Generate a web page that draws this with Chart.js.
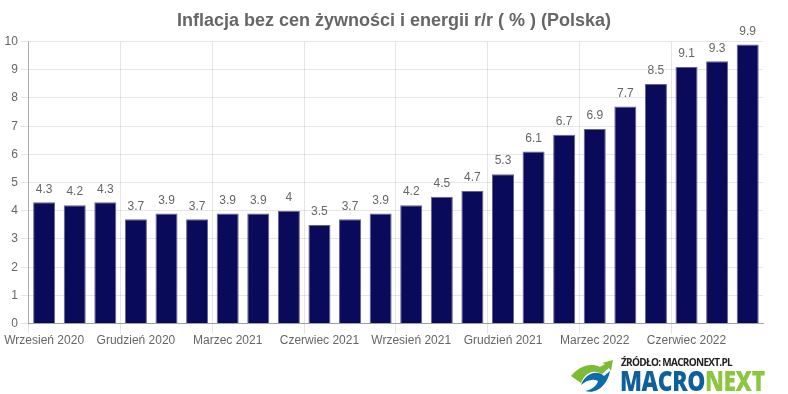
<!DOCTYPE html>
<html lang="pl">
<head>
    <meta charset="UTF-8">
    <title>Inflacja bez cen żywności i energii</title>
    <script src="https://cdn.jsdelivr.net/npm/chart.js"></script>
    <style>
        html, body { margin: 0; padding: 0; background: #fff; overflow: hidden; }
        .wrap { position: relative; width: 788px; height: 394px; }
        .source {
            position: absolute; left: 621px; top: 355px;
            font: bold 10px "Open Sans", Arial, sans-serif; color: #222; letter-spacing: -0.7px; white-space: nowrap;
        }
        .brand {
            position: absolute; left: 620px; top: 360px;
            font: 800 29px "Open Sans", Arial, sans-serif; white-space: nowrap;
            letter-spacing: -0.5px; transform-origin: left top; transform: scaleX(0.785);
        }
        .brand .a { color: #0f5f9c; }
        .brand .b { color: #8cc63f; }
        .swoosh { position: absolute; left: 570px; top: 359px; }
    </style>
</head>
<body>
<div class="wrap">
    <canvas id="chart" width="788" height="394"></canvas>
    <svg class="swoosh" width="46" height="34" viewBox="0 0 46 34">
        <path d="M1 17 C8 8 20 3 30 8 L35 5 L32 4 L43 1 L41 12 L39 9 L32 15 C26 11 16 11 11 24 Z" fill="#7dbb35"/>
        <path d="M11 26 C16 13 28 11 34 17 L40 12 C38 24 28 36 15 32 C21 31 27 27 28 22 C22 19 16 22 11 26 Z" fill="#0f6aa8"/>
    </svg>
    <div class="source">ŹRÓDŁO: MACRONEXT.PL</div>
    <div class="brand"><span class="a">MACRO</span><span class="b">NEXT</span></div>
</div>
<script>
const chartTitle = "Inflacja bez cen żywności i energii r/r ( % ) (Polska)";
const months = [
    "Wrzesień 2020", "Październik 2020", "Listopad 2020", "Grudzień 2020",
    "Styczeń 2021", "Luty 2021", "Marzec 2021", "Kwiecień 2021", "Maj 2021",
    "Czerwiec 2021", "Lipiec 2021", "Sierpień 2021", "Wrzesień 2021",
    "Październik 2021", "Listopad 2021", "Grudzień 2021", "Styczeń 2022",
    "Luty 2022", "Marzec 2022", "Kwiecień 2022", "Maj 2022", "Czerwiec 2022",
    "Lipiec 2022", "Sierpień 2022"
];
const inflation = [4.3, 4.2, 4.3, 3.7, 3.9, 3.7, 3.9, 3.9, 4, 3.5, 3.7, 3.9, 4.2, 4.5, 4.7, 5.3, 6.1, 6.7, 6.9, 7.7, 8.5, 9.1, 9.3, 9.9];
const labelEvery = 3;
const fontFamily = "Arial, 'Liberation Sans', sans-serif";

const valueLabels = {
    id: "valueLabels",
    // title is centred on the whole canvas, not on the padded box
    beforeDraw(chart) {
        chart.titleBlock.left = 0;
        chart.titleBlock.right = chart.width;
    },
    // value above each bar
    afterDatasetsDraw(chart) {
        const ctx = chart.ctx;
        ctx.save();
        ctx.font = "12px " + fontFamily;
        ctx.fillStyle = "#666";
        ctx.textAlign = "center";
        ctx.textBaseline = "bottom";
        chart.getDatasetMeta(0).data.forEach((bar, i) => {
            ctx.fillText(inflation[i], bar.x, bar.y - 7);
        });
        ctx.restore();
    }
};

new Chart(document.getElementById("chart"), {
    type: "bar",
    data: {
        labels: months,
        datasets: [{
            data: inflation,
            backgroundColor: "#0a0a5a",
            borderColor: "rgba(60, 60, 125, 0.8)",
            borderWidth: 1
        }]
    },
    options: {
        responsive: false,
        animation: false,
        layout: { padding: { left: 1.5, right: 25, top: 0, bottom: 46 } },
        plugins: {
            legend: { display: false },
            tooltip: { enabled: false },
            title: {
                display: true,
                text: chartTitle,
                color: "#666",
                font: { family: fontFamily, size: 18, weight: "bold" },
                padding: { top: 10, bottom: 10 }
            }
        },
        scales: {
            x: {
                border: { color: "rgba(0,0,0,0.3)" },
                grid: {
                    // only every third month gets a line
                    color: c => c.index % labelEvery === 0 ? "rgba(0,0,0,0.1)" : "rgba(0,0,0,0)",
                    tickLength: 10
                },
                ticks: {
                    color: "#666",
                    font: { family: fontFamily, size: 12 },
                    padding: 0,
                    maxRotation: 0,
                    autoSkip: false,
                    callback: function (value, index) {
                        return index % labelEvery === 0 ? months[index] : "";
                    }
                }
            },
            y: {
                min: 0,
                max: 10,
                border: { color: "rgba(0,0,0,0.25)" },
                grid: { color: "rgba(0,0,0,0.1)" },
                ticks: {
                    color: "#666",
                    font: { family: fontFamily, size: 12 },
                    stepSize: 1
                }
            }
        }
    },
    plugins: [valueLabels]
});
</script>
</body>
</html>
